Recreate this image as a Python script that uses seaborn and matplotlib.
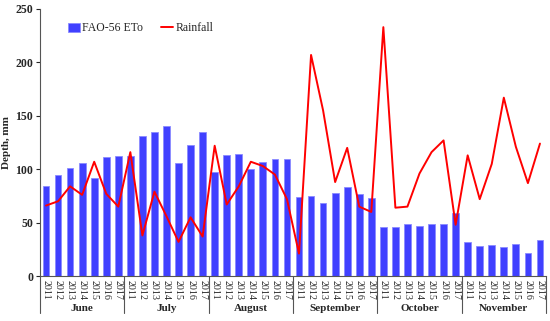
import numpy as np
import pandas as pd
import matplotlib
matplotlib.use("Agg")
import matplotlib.pyplot as plt
import matplotlib.transforms as mtransforms
import seaborn as sns

# --- data ---
months = ["June", "July", "August", "September", "October", "November"]
years = ["2011", "2012", "2013", "2014", "2015", "2016", "2017"]

eto_june = [84, 95, 101, 106, 92, 111, 112]
eto_july = [112, 131, 135, 140, 106, 123, 135]
eto_aug = [97, 113, 114, 100, 107, 110, 110]
eto_sep = [74, 75, 68, 78, 83, 77, 73]
eto_oct = [46, 46, 49, 47, 49, 49, 59]
eto_nov = [32, 28, 29, 27, 30, 22, 34]

rain_june = [66, 70, 84, 76, 107, 77, 65]
rain_july = [116, 38, 79, 56, 32, 55, 37]
rain_aug = [122, 67, 84, 107, 103, 95, 72]
rain_sep = [21, 207, 155, 88, 120, 65, 60]
rain_oct = [233, 64, 65, 96, 116, 127, 48]
rain_nov = [113, 72, 105, 167, 121, 87, 124]

eto = eto_june + eto_july + eto_aug + eto_sep + eto_oct + eto_nov
rain = rain_june + rain_july + rain_aug + rain_sep + rain_oct + rain_nov

df = pd.DataFrame({
    "idx": np.arange(len(eto)),
    "month": np.repeat(months, len(years)),
    "year": years * len(months),
    "eto": eto,
    "rain": rain,
})

sns.set_style("ticks")
plt.rcParams["font.family"] = ["Liberation Serif", "DejaVu Serif"]

fig = plt.figure(figsize=(5.5, 3.21), dpi=100)
ax = fig.add_axes([0.0727, 0.140, 0.920, 0.832])

sns.barplot(data=df, x="idx", y="eto", color="#4040ff", width=0.56,
            edgecolor="#8a8aff", linewidth=0.6, saturation=1, ax=ax,
            label="FAO-56 ETo")
sns.lineplot(data=df, x="idx", y="rain", color="red", linewidth=1.4,
             ax=ax, label="Rainfall")

ax.set_xlim(-0.5, len(eto) - 0.5)
ax.set_ylim(0, 250)
ax.set_yticks(range(0, 251, 50))
ax.set_yticklabels([str(v) for v in range(0, 251, 50)], fontsize=8.5,
                   fontweight="bold")
ax.set_xticks(df["idx"])
ax.set_xticklabels(df["year"], rotation=-90, fontsize=7.2)
ax.tick_params(axis="x", length=0, pad=3)
ax.tick_params(axis="y", length=3, width=0.8, pad=2)
ax.set_xlabel("")
ax.set_ylabel("Depth, mm", fontsize=8, fontweight="bold", labelpad=3)

for s in ["top", "right"]:
    ax.spines[s].set_visible(False)
ax.spines["left"].set_color("#555555")
ax.spines["bottom"].set_color("#555555")

# month group separators and labels below the year ticks
trans = mtransforms.blended_transform_factory(ax.transData, ax.transAxes)
n = len(years)
for i in range(len(months) + 1):
    xb = i * n - 0.5
    ax.plot([xb, xb], [0, -0.14], color="#555555", linewidth=0.8,
            transform=trans, clip_on=False)
for i, m in enumerate(months):
    ax.text(i * n + (n - 1) / 2, -0.12, m, transform=trans, ha="center",
            va="center", fontsize=8, fontweight="bold")

handles, labels = ax.get_legend_handles_labels()
order = [labels.index("FAO-56 ETo"), labels.index("Rainfall")]
ax.legend([handles[i] for i in order], [labels[i] for i in order],
          loc="upper left", bbox_to_anchor=(0.035, 0.99), ncol=2,
          frameon=False, fontsize=8.5, handlelength=1.0, handleheight=0.8,
          handletextpad=0.2, columnspacing=1.5)

fig.savefig("out.png", dpi=100)
